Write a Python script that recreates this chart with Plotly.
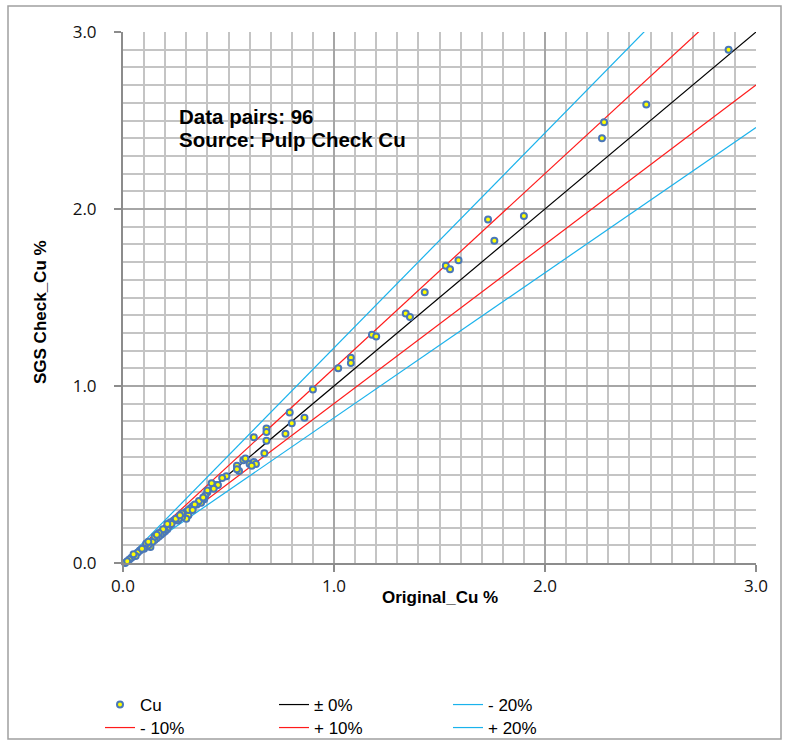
import plotly.graph_objects as go

# Original vs check assays (Cu %)
original_cu = [2.87, 2.48, 2.28, 2.27, 1.90, 1.73, 1.76, 1.59, 1.53, 1.55,
               1.43, 1.34, 1.36, 1.18, 1.20, 1.08, 1.08, 1.02, 0.90, 0.79,
               0.80, 0.86, 0.77, 0.68, 0.68, 0.62, 0.68, 0.67, 0.57, 0.58,
               0.60, 0.62, 0.63, 0.61, 0.54, 0.55, 0.54, 0.49, 0.47, 0.44,
               0.42, 0.40, 0.40, 0.39, 0.385, 0.37, 0.35, 0.33, 0.32, 0.30,
               0.31, 0.30, 0.31, 0.28, 0.26, 0.24, 0.225, 0.265, 0.25, 0.22,
               0.21, 0.20, 0.19, 0.18, 0.17, 0.16, 0.15, 0.14, 0.13, 0.12,
               0.11, 0.10, 0.08, 0.07, 0.06, 0.04, 0.03, 0.01, 0.02, 0.36,
               0.34, 0.28, 0.27, 0.23, 0.19, 0.17, 0.15, 0.12, 0.09, 0.05,
               0.45, 0.43, 0.38, 0.33, 0.21, 0.16]
check_cu = [2.90, 2.59, 2.49, 2.40, 1.96, 1.94, 1.82, 1.71, 1.68, 1.66,
            1.53, 1.41, 1.39, 1.29, 1.28, 1.16, 1.13, 1.10, 0.98, 0.85,
            0.79, 0.82, 0.73, 0.76, 0.74, 0.71, 0.69, 0.62, 0.58, 0.59,
            0.56, 0.57, 0.56, 0.55, 0.55, 0.52, 0.53, 0.49, 0.48, 0.44,
            0.45, 0.40, 0.41, 0.38, 0.36, 0.34, 0.33, 0.32, 0.31, 0.29,
            0.27, 0.25, 0.30, 0.26, 0.24, 0.24, 0.23, 0.25, 0.25, 0.21,
            0.19, 0.18, 0.17, 0.16, 0.15, 0.14, 0.13, 0.12, 0.09, 0.10,
            0.11, 0.08, 0.07, 0.06, 0.04, 0.03, 0.02, 0.00, 0.01, 0.35,
            0.33, 0.28, 0.27, 0.22, 0.19, 0.17, 0.15, 0.12, 0.08, 0.05,
            0.44, 0.42, 0.37, 0.30, 0.22, 0.16]

# Reference lines in legend order (row 1 after Cu: ±0%, -20%; row 2: -10%, +10%, +20%)
line_names = ["± 0%", "- 20%", "- 10%", "+ 10%", "+ 20%"]
line_slopes = [1.0, 0.82, 0.9, 1.1, 1.215]
line_colors = ["#000000", "#1ab2ec", "#ff1a1a", "#ff1a1a", "#1ab2ec"]
line_legend = ["legend", "legend", "legend2", "legend2", "legend2"]
line_x = [0.0, 3.0]

tick_vals = [0, 1, 2, 3]
tick_text = ["0.0", "1.0", "2.0", "3.0"]

annot_lines = ["Data pairs: 96", "Source: Pulp Check Cu"]
annot_y = [2.52, 2.39]

fig = go.Figure()
for name, s, c, lg in zip(line_names, line_slopes, line_colors, line_legend):
    fig.add_trace(go.Scatter(
        x=line_x, y=[s * v for v in line_x], mode="lines", name=name,
        line=dict(color=c, width=1.2), legend=lg,
    ))
fig.add_trace(go.Scatter(
    x=original_cu, y=check_cu, mode="markers", name="Cu",
    marker=dict(size=6, color="#ffff00", line=dict(color="#4a78b8", width=2)),
    cliponaxis=False, legend="legend",
))
fig.data[-1].legendrank = 1
for i, tr in enumerate(fig.data[:-1]):
    tr.legendrank = 2 + i

L, R, T, B = 123, 33, 32, 183
W, H = 789, 746
pw, ph = W - L - R, H - T - B


def px_x(p):
    return (p - L) / pw


def px_y(p):
    return (H - B - p) / ph


axis_common = dict(
    range=[0, 3], tickvals=tick_vals, ticktext=tick_text,
    showgrid=True, gridcolor="#a6a6a6", gridwidth=2,
    minor=dict(dtick=0.1, showgrid=True, gridcolor="#c4c4c4", gridwidth=1.5, ticks=""),
    showline=True, linecolor="#8c8c8c", linewidth=2,
    ticks="outside", ticklen=7, tickcolor="#8c8c8c", tickwidth=1.5,
    tickfont=dict(family="Open Sans, Noto Sans, sans-serif", size=17, color="#111"),
    zeroline=False, fixedrange=True,
)
title_font = dict(family="Liberation Sans, Arial, sans-serif", size=17, color="#000", weight="bold")
legend_common = dict(
    orientation="h", x=px_x(100), xanchor="left", yanchor="middle",
    entrywidth=129, entrywidthmode="pixels",
    font=dict(family="Liberation Sans Narrow, Liberation Sans, Arial, sans-serif", size=17, color="#000"),
    traceorder="normal", bgcolor="rgba(0,0,0,0)", tracegroupgap=0,
)

annotations = [dict(
    x=0.256, y=yv, xref="x", yref="y", xanchor="left", yanchor="middle",
    text=t, showarrow=False, align="left",
    font=dict(family="Liberation Sans, Arial, sans-serif", size=20.5, color="#000", weight="bold"),
) for t, yv in zip(annot_lines, annot_y)]
annotations.append(dict(
    x=px_x(440), y=px_y(597), xref="paper", yref="paper", xanchor="center", yanchor="middle",
    text="Original_Cu %", showarrow=False, font=title_font,
))
annotations.append(dict(
    x=px_x(40), y=px_y(312), xref="paper", yref="paper", xanchor="center", yanchor="middle",
    text="SGS Check_Cu %", showarrow=False, textangle=-90, font=title_font,
))

fig.update_layout(
    width=W, height=H,
    margin=dict(l=L, r=R, t=T, b=B, autoexpand=False),
    paper_bgcolor="white", plot_bgcolor="white",
    xaxis=dict(**axis_common, ticklabelstandoff=0),
    yaxis=dict(**axis_common, ticklabelstandoff=14),
    showlegend=True,
    legend=dict(**legend_common, y=px_y(705)),
    legend2=dict(**legend_common, y=px_y(728)),
    annotations=annotations,
    shapes=[dict(
        type="rect", xref="paper", yref="paper",
        x0=px_x(8), x1=px_x(781),
        y0=px_y(739), y1=px_y(6),
        line=dict(color="#a0a0a0", width=1.5), fillcolor="rgba(0,0,0,0)", layer="below",
    )],
)

fig.write_html("out.html")
